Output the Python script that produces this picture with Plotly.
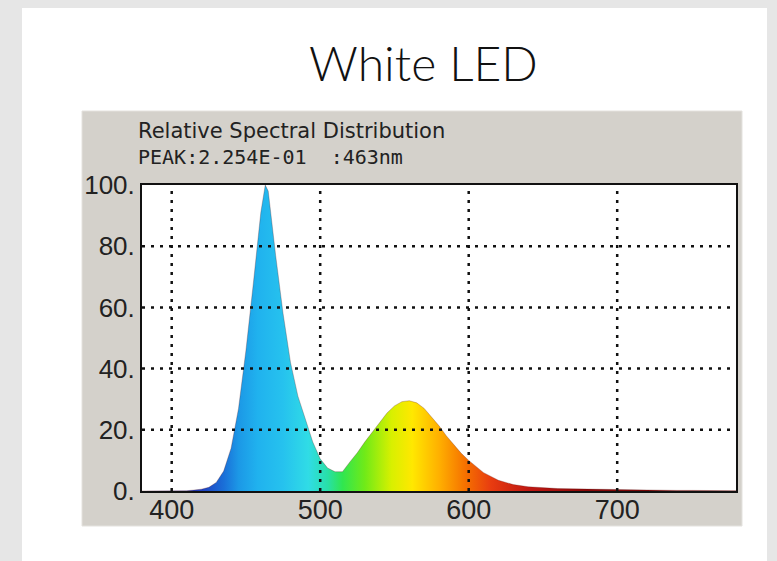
import plotly.graph_objects as go

# ---- data ----
wavelength = [380, 390, 400, 410, 415, 420, 425, 430, 435, 440, 445, 450, 455, 460, 463,
              465, 470, 475, 480, 485, 490, 495, 500, 505, 510, 515, 520, 525, 530, 535,
              540, 545, 550, 555, 560, 565, 570, 575, 580, 585, 590, 595, 600, 605, 610,
              620, 630, 640, 650, 660, 670, 680, 690, 700, 710, 720, 730, 740, 750, 760,
              770, 780]
intensity = [0, 0, 0, 0.1, 0.3, 0.6, 1.2, 2.8, 6.5, 14, 27, 46, 68, 91, 100,
             98, 77, 58, 42, 31, 23.5, 16, 10.5, 7.5, 6.3, 6.3, 9.5, 12.5, 16, 19.3,
             22.5, 25.5, 27.8, 29.2, 29.5, 28.8, 27, 24.3, 21.3, 18, 15, 12.3, 10, 8, 6,
             3.5, 2.1, 1.4, 1.0, 0.8, 0.7, 0.6, 0.5, 0.4, 0.35, 0.3, 0.25, 0.2, 0.2, 0.15,
             0.1, 0.1]

x_ticks = [400, 500, 600, 700]
x_tick_labels = ["400", "500", "600", "700"]
y_ticks = [0, 20, 40, 60, 80, 100]
y_tick_labels = ["0.", "20.", "40.", "60.", "80.", "100."]
x_grid = [400, 500, 600, 700]
y_grid = [20, 40, 60, 80]

title_text = "White LED"
header_line1 = "Relative Spectral Distribution"
header_line2 = "PEAK:2.254E-01  :463nm"

# ---- layout geometry (pixels) ----
W, H = 777, 561
PL, PR, PT, PB = 142, 736, 185, 491     # plot frame
pw, ph = PR - PL, PB - PT


def px_x(p):
    return (p - PL) / pw


def px_y(p):
    return (PB - p) / ph


# spectrum colour scale over wavelength (380..780)
spec_stops = [(380, "#2a1a9a"), (420, "#1f3fc0"), (435, "#1a6fd8"), (445, "#1c98e6"),
              (458, "#20b2ee"), (475, "#26c2ee"), (492, "#30dce6"), (505, "#28e0a8"),
              (515, "#30e650"), (530, "#70ea18"), (548, "#d8f000"), (562, "#ffe800"),
              (580, "#ffb000"), (598, "#f57000"), (615, "#e83c10"), (640, "#c01812"),
              (680, "#8a0808"), (780, "#600000")]
colorscale = [[(w - 380) / 400, c] for w, c in spec_stops]

fig = go.Figure()

fig.add_trace(go.Scatter(
    x=wavelength, y=intensity, mode="lines", fill="tozeroy",
    line=dict(width=0.6, color="rgba(90,20,20,0.45)"),
    fillgradient=dict(type="horizontal", start=380, stop=780, colorscale=colorscale),
    hoverinfo="skip", showlegend=False,
))

shapes = [
    # white panel
    dict(type="rect", xref="paper", yref="paper", x0=px_x(22), x1=px_x(767),
         y0=px_y(565), y1=px_y(8), fillcolor="white", line=dict(width=0), layer="below"),
    # gray window box
    dict(type="rect", xref="paper", yref="paper", x0=px_x(82), x1=px_x(742),
         y0=px_y(526), y1=px_y(111), fillcolor="#d4d1cb",
         line=dict(width=1, color="#e4e2de"), layer="below"),
    # white plot area
    dict(type="rect", xref="paper", yref="paper", x0=0, x1=1, y0=0, y1=1,
         fillcolor="white", line=dict(width=0), layer="below"),
]
for gx in x_grid:
    shapes.append(dict(type="line", xref="x", yref="paper", x0=gx, x1=gx, y0=0, y1=1,
                       line=dict(color="#111", width=2.5, dash="3px,6px"), layer="above"))
for gy in y_grid:
    shapes.append(dict(type="line", xref="paper", yref="y", x0=0, x1=1, y0=gy, y1=gy,
                       line=dict(color="#111", width=2.5, dash="3px,6px"), layer="above"))

annotations = [
    dict(text=title_text, xref="paper", yref="paper", x=px_x(423), y=px_y(62),
         xanchor="center", yanchor="middle", showarrow=False,
         font=dict(family="Lato", size=48, color="#111", weight=300)),
    dict(text=header_line1, xref="paper", yref="paper", x=px_x(136), y=px_y(131),
         xanchor="left", yanchor="middle", showarrow=False,
         font=dict(family="DejaVu Sans", size=21, color="#222")),
    dict(text=header_line2, xref="paper", yref="paper", x=px_x(136), y=px_y(157),
         xanchor="left", yanchor="middle", showarrow=False,
         font=dict(family="DejaVu Sans Mono", size=20, color="#222")),
]

fig.update_layout(
    width=W, height=H, autosize=False,
    margin=dict(l=PL, r=W - PR, t=PT, b=H - PB, pad=0),
    paper_bgcolor="#e6e6e6", plot_bgcolor="rgba(0,0,0,0)",
    shapes=shapes, annotations=annotations, showlegend=False,
    xaxis=dict(range=[380, 780], tickvals=x_ticks, ticktext=x_tick_labels,
               showgrid=False, zeroline=False, showline=True, linecolor="#111",
               linewidth=2, mirror=True, ticks="", layer="above traces",
               ticklabelstandoff=-6,
               tickfont=dict(family="Liberation Sans", size=27, color="#222")),
    yaxis=dict(range=[0, 100], tickvals=y_ticks, ticktext=y_tick_labels,
               showgrid=False, zeroline=False, showline=True, linecolor="#111",
               linewidth=2, mirror=True, ticks="", layer="above traces",
               tickfont=dict(family="Liberation Sans", size=26, color="#222")),
)

fig.write_html("out.html", config={"displayModeBar": False},
               post_script="document.body.style.margin='0px';document.body.style.background='#e6e6e6';")
